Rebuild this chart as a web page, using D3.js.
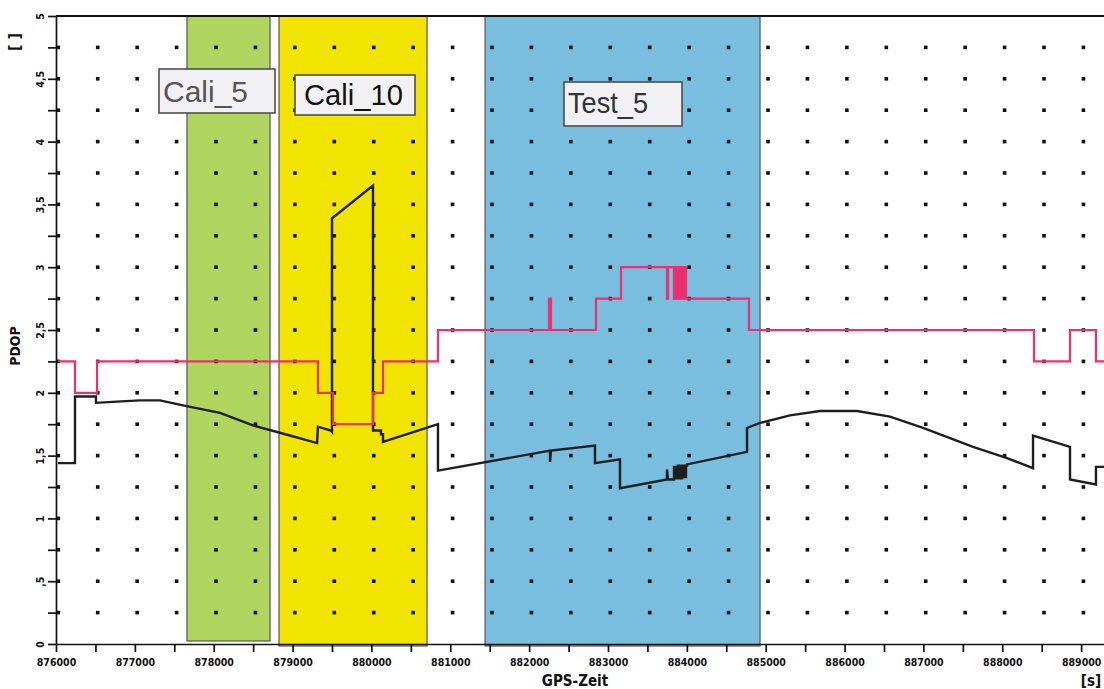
<!DOCTYPE html>
<html>
<head>
<meta charset="utf-8">
<script src="https://cdn.jsdelivr.net/npm/d3@7"></script>
<style>
body{margin:0;background:#fff;}
svg{display:block;}
.axis text{font-family:"DejaVu Sans Condensed","DejaVu Sans",sans-serif;font-weight:bold;font-size:10.5px;fill:#111;}
.axis path,.axis line{stroke:#111;stroke-width:1.7;}
.title{font-family:"DejaVu Sans Condensed","DejaVu Sans",sans-serif;font-weight:bold;fill:#111;}
</style>
</head>
<body>
<div id="box-div"></div>
<script>
// GPS time [s] and PDOP values
const stepTime = [876025, 876241, 876520, 879322, 879513, 880020, 880147, 880844,
    882252, 882277, 882848, 883165, 883748, 883761,
    883837, 883862, 883888, 883913, 883938, 883964, 883989, 884002,
    884788, 888402, 888859, 889188, 889290];
const stepValue = [2.25, 2.0, 2.25, 2.0, 1.75, 2.0, 2.25, 2.5,
    2.75, 2.5, 2.75, 3.0, 2.75, 3.0,
    2.75, 3.0, 2.75, 3.0, 2.75, 3.0, 2.75, 2.75,
    2.5, 2.25, 2.5, 2.25, 2.25];

const curveTime = [876025, 876241, 876241, 876507, 876507, 876774, 877065, 877319, 877610, 878080,
    878498, 878967, 879310, 879322, 879487, 879500, 879500, 880020, 880020, 880121,
    880121, 880147, 880147, 880844, 880844, 882265, 882265, 882277, 882835, 882835,
    883152, 883152, 883748, 883748, 883761,
    883837, 883837, 883862, 883862, 883888, 883888, 883913, 883913, 883938, 883938,
    883964, 883964, 883989, 883989, 884002, 884002,
    884763, 884763, 884928, 885308, 885688, 886158, 886576, 886995, 887629,
    888060, 888390, 888390, 888859, 888859, 889188, 889188, 889290];
const curveValue = [1.44, 1.44, 1.97, 1.97, 1.92, 1.93, 1.94, 1.94, 1.90, 1.84,
    1.74, 1.66, 1.60, 1.73, 1.70, 1.69, 3.39, 3.65, 1.70, 1.70,
    1.67, 1.67, 1.61, 1.75, 1.38, 1.54, 1.45, 1.54, 1.58, 1.44,
    1.47, 1.24, 1.31, 1.39, 1.31,
    1.31, 1.41, 1.41, 1.32, 1.32, 1.42, 1.42, 1.32, 1.32, 1.42,
    1.42, 1.33, 1.33, 1.42, 1.42, 1.43,
    1.53, 1.72, 1.76, 1.82, 1.855, 1.855, 1.81, 1.72, 1.57,
    1.48, 1.40, 1.66, 1.57, 1.31, 1.27, 1.41, 1.41];

// marked time windows
const bandNames = ['Cali_5', 'Cali_10', 'Test_5'];
const bandStart = [877661, 878828, 881441];
const bandEnd = [878714, 880705, 884928];

const yTicks = d3.range(0, 5.001, 0.25);
const xTicks = d3.range(876000, 889001, 500);

const dms = {
    width: 1104,
    height: 689,
    margin: {top: 16, right: 0, bottom: 45, left: 56}
};
dms.contentWidth = dms.width - dms.margin.left - dms.margin.right;
dms.contentHeight = dms.height - dms.margin.top - dms.margin.bottom;

const box = d3.select('#box-div').append('svg')
    .attr('width', dms.width)
    .attr('height', dms.height);

const content = box.append('g')
    .attr('transform', `translate(${dms.margin.left},${dms.margin.top})`);

const xScale = d3.scaleLinear()
    .domain([876000, 889290])
    .range([0, dms.contentWidth]);

const yScale = d3.scaleLinear()
    .domain([0, 5])
    .range([dms.contentHeight, 0]);

// bands (bottom edge differs a little per band)
const bandStyle = [
    {fill: '#aed65e', bottom: -3},
    {fill: '#f0e400', bottom: 2},
    {fill: '#79bddf', bottom: 2}
];
content.append('g').selectAll('rect')
    .data(bandNames)
    .join('rect')
    .attr('x', (d, i) => xScale(bandStart[i]))
    .attr('y', 0)
    .attr('width', (d, i) => xScale(bandEnd[i]) - xScale(bandStart[i]))
    .attr('height', (d, i) => dms.contentHeight + bandStyle[i].bottom)
    .attr('fill', (d, i) => bandStyle[i].fill)
    .attr('stroke', '#555')
    .attr('stroke-width', 1.2);

// grid dots at every minor tick crossing
const dots = [];
xTicks.forEach(x => yTicks.filter(y => y > 0 && y < 5).forEach(y => dots.push([x, y])));
content.append('g').selectAll('rect')
    .data(dots)
    .join('rect')
    .attr('x', d => xScale(d[0]) + 0.5)
    .attr('y', d => yScale(d[1]) - 1.8)
    .attr('width', 3.6)
    .attr('height', 3.6)
    .attr('fill', '#111');

// axes
const yAxis = content.append('g')
    .attr('class', 'axis')
    .call(d3.axisLeft(yScale)
        .tickValues(yTicks)
        .tickSize(8)
        .tickSizeOuter(0)
        .tickFormat(d => (Math.abs(d * 2 - Math.round(d * 2)) < 1e-6) ? String(d).replace(/^0\./, ',').replace('.', ',') : ''));
yAxis.selectAll('text')
    .attr('transform', 'rotate(-90)')
    .attr('x', 0)
    .attr('y', -12)
    .attr('dy', 0)
    .attr('text-anchor', 'middle');

const xAxis = content.append('g')
    .attr('class', 'axis')
    .attr('transform', `translate(0,${dms.contentHeight})`)
    .call(d3.axisBottom(xScale)
        .tickValues(xTicks)
        .tickSize(8)
        .tickSizeOuter(0)
        .tickFormat(d => d % 1000 === 0 ? String(d) : ''));
xAxis.selectAll('text')
    .attr('y', 15);

content.append('line')
    .attr('x1', 0).attr('x2', dms.contentWidth)
    .attr('y1', 0).attr('y2', 0)
    .attr('stroke', '#111')
    .attr('stroke-width', 2);
//top border

// series
const stepData = stepTime.map((t, i) => ({t: t, v: stepValue[i]}));
const curveData = curveTime.map((t, i) => ({t: t, v: curveValue[i]}));

content.append('path')
    .datum(curveData)
    .attr('fill', 'none')
    .attr('stroke', '#1e1e1e')
    .attr('stroke-width', 2.4)
    .attr('stroke-linejoin', 'miter')
    .attr('d', d3.line().x(d => xScale(d.t)).y(d => yScale(d.v)));

content.append('path')
    .datum(stepData)
    .attr('fill', 'none')
    .attr('stroke', '#ee2f6d')
    .attr('stroke-width', 2.2)
    .attr('d', d3.line().x(d => xScale(d.t)).y(d => yScale(d.v)).curve(d3.curveStepAfter));

// label boxes
const labelLayout = [
    {x: 159, y: 69, w: 116, h: 44, tx: 163, ty: 102, tw: 85, color: '#555'},
    {x: 295, y: 75, w: 120, h: 40, tx: 304, ty: 105, tw: 99, color: '#111'},
    {x: 564, y: 82, w: 118, h: 44, tx: 568, ty: 113, tw: 80, color: '#333'}
];
const labels = box.append('g').selectAll('g')
    .data(bandNames)
    .join('g');
labels.append('rect')
    .attr('x', (d, i) => labelLayout[i].x)
    .attr('y', (d, i) => labelLayout[i].y)
    .attr('width', (d, i) => labelLayout[i].w)
    .attr('height', (d, i) => labelLayout[i].h)
    .attr('fill', '#f1f1f4')
    .attr('stroke', '#444')
    .attr('stroke-width', 1.5);
labels.append('text')
    .attr('x', (d, i) => labelLayout[i].tx)
    .attr('y', (d, i) => labelLayout[i].ty)
    .attr('textLength', (d, i) => labelLayout[i].tw)
    .attr('lengthAdjust', 'spacingAndGlyphs')
    .attr('font-family', '"Liberation Sans", Arial, sans-serif')
    .attr('font-size', 29)
    .attr('fill', (d, i) => labelLayout[i].color)
    .text(d => d);

// axis titles
box.append('text')
    .attr('class', 'title')
    .attr('x', 575).attr('y', 686)
    .attr('text-anchor', 'middle')
    .attr('font-size', 15)
    .text('GPS-Zeit');
box.append('text')
    .attr('class', 'title')
    .attr('x', 1091).attr('y', 686)
    .attr('text-anchor', 'middle')
    .attr('font-size', 15)
    .text('[s]');
box.append('text')
    .attr('class', 'title')
    .attr('transform', 'translate(20,346) rotate(-90)')
    .attr('text-anchor', 'middle')
    .attr('font-size', 14)
    .text('PDOP');
box.append('text')
    .attr('class', 'title')
    .attr('transform', 'translate(20,42) rotate(-90)')
    .attr('text-anchor', 'middle')
    .attr('font-size', 16)
    .text('[ ]');
</script>
</body>
</html>
